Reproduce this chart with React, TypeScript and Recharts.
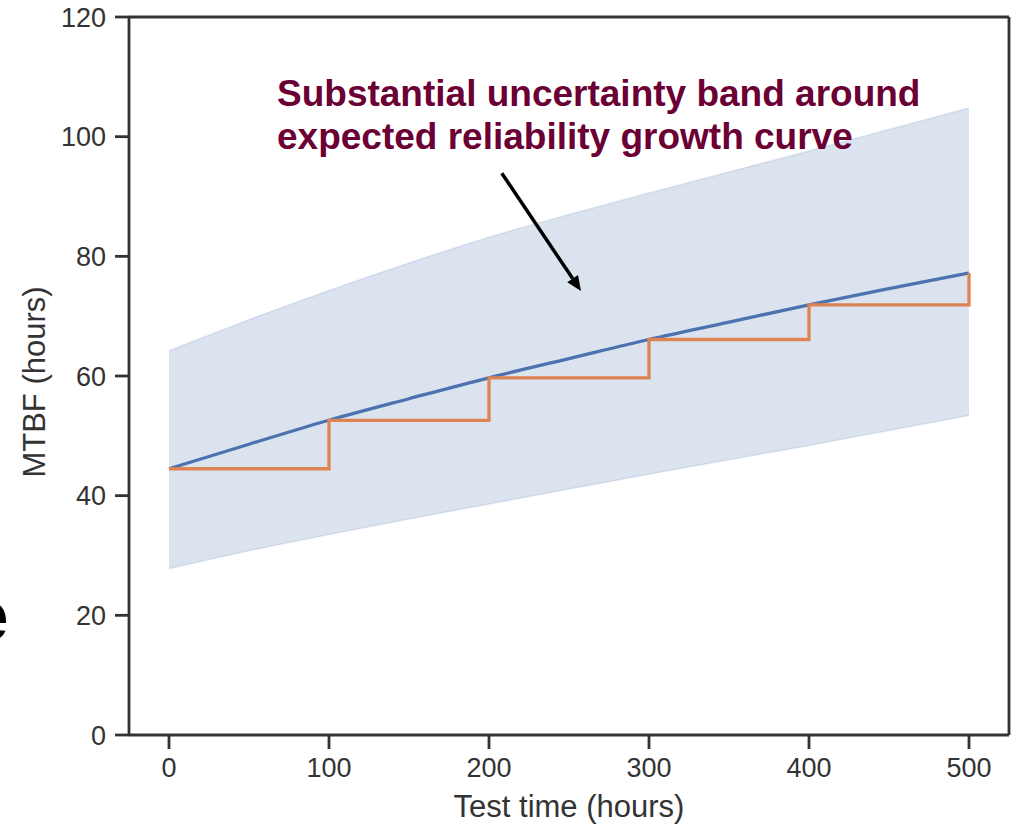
import { Area, ComposedChart, Line, ReferenceLine, XAxis, YAxis } from 'recharts'

// test hours sampled along the expected growth curve
const hours = [0, 50, 100, 150, 200, 250, 300, 350, 400, 450, 500]
const expected = [44.5, 48.6, 52.6, 56.2, 59.7, 62.9, 66.1, 69.0, 71.9, 74.6, 77.2]
const upper = [64.2, 69.4, 74.3, 78.9, 83.2, 87.0, 90.6, 94.1, 97.6, 101.2, 104.8]
const lower = [27.8, 30.8, 33.5, 36.1, 38.6, 41.1, 43.6, 46.0, 48.4, 50.9, 53.4]

// demonstrated MTBF after each test phase
const stepHours = [0, 100, 200, 300, 400, 500]
const demonstrated = [44.5, 52.6, 59.7, 66.1, 71.9, 77.2]

const xTicks = [0, 100, 200, 300, 400, 500]
const yTicks = [0, 20, 40, 60, 80, 100, 120]

// arrow from the note down into the band (data coords)
const arrow = [
  { x: 208, y: 93.9 },
  { x: 257.5, y: 74.2 },
]

const data = hours.map((h, i) => {
  const k = stepHours.indexOf(h)
  return {
    h,
    expected: expected[i],
    band: [lower[i], upper[i]],
    demonstrated: k >= 0 ? demonstrated[k] : null,
  }
})

const FONT = '"Liberation Sans", Arial, Helvetica, sans-serif'
const INK = '#333333'
const BLUE = '#4c72b0'
const ORANGE = '#dd8452'

function ArrowShape(p: any) {
  const { x1, y1, x2, y2 } = p
  const dx = x2 - x1
  const dy = y2 - y1
  const len = Math.sqrt(dx * dx + dy * dy) || 1
  const ux = dx / len
  const uy = dy / len
  const head = 15
  const half = 6.5
  const bx = x2 - ux * head
  const by = y2 - uy * head
  return (
    <g>
      <line x1={x1} y1={y1} x2={bx} y2={by} stroke="#000" strokeWidth={3.5} />
      <polygon
        points={`${x2},${y2} ${bx - uy * half},${by + ux * half} ${bx + uy * half},${by - ux * half}`}
        fill="#000"
      />
    </g>
  )
}

export default function App() {
  const tick = { fontSize: 27, fill: INK, fontFamily: FONT }
  const axisLine = { stroke: INK, strokeWidth: 2.8 }
  return (
    <div style={{ position: 'absolute', left: 0, top: 0, width: 1014, height: 826, overflow: 'hidden', background: '#fff' }}>
      <ComposedChart width={1014} height={826} data={data} margin={{ top: 17, right: 5, left: 0, bottom: 0 }}>
        <XAxis
          dataKey="h"
          type="number"
          domain={[-25, 525]}
          ticks={xTicks}
          allowDataOverflow
          height={91}
          tick={tick}
          tickSize={14}
          tickMargin={9}
          axisLine={axisLine}
          tickLine={axisLine}
          label={{
            value: 'Test time (hours)',
            position: 'insideBottom',
            offset: 9,
            style: { fontSize: 31, fill: INK, fontFamily: FONT },
          }}
        />
        <YAxis
          type="number"
          domain={[0, 120]}
          ticks={yTicks}
          width={129}
          tick={tick}
          tickSize={14}
          tickMargin={9}
          axisLine={axisLine}
          tickLine={axisLine}
          label={{
            value: 'MTBF (hours)',
            angle: -90,
            position: 'insideLeft',
            offset: 34,
            dy: 6,
            style: { fontSize: 31, fill: INK, fontFamily: FONT, textAnchor: 'middle' },
          }}
        />
        <Area
          dataKey="band"
          type="monotone"
          fill={BLUE}
          fillOpacity={0.2}
          stroke={BLUE}
          strokeOpacity={0.15}
          strokeWidth={1.5}
          isAnimationActive={false}
        />
        <Line dataKey="expected" type="monotone" stroke={BLUE} strokeWidth={3.3} dot={false} isAnimationActive={false} />
        <Line
          dataKey="demonstrated"
          type="stepAfter"
          connectNulls
          stroke={ORANGE}
          strokeWidth={3.3}
          dot={false}
          isAnimationActive={false}
        />
        <ReferenceLine y={120} stroke={INK} strokeWidth={2.8} ifOverflow="visible" />
        <ReferenceLine x={525} stroke={INK} strokeWidth={2.8} ifOverflow="visible" />
        <ReferenceLine segment={arrow} ifOverflow="visible" shape={ArrowShape} />
      </ComposedChart>
      <div
        style={{
          position: 'absolute',
          left: 277,
          top: 72,
          fontFamily: FONT,
          fontWeight: 700,
          fontSize: 37,
          lineHeight: '43px',
          color: '#6b0035',
          whiteSpace: 'nowrap',
        }}
      >
        Substantial uncertainty band around
        <br />
        expected reliability growth curve
      </div>
      <div
        style={{
          position: 'absolute',
          left: -33,
          top: 572,
          fontFamily: FONT,
          fontWeight: 700,
          fontSize: 75,
          lineHeight: 'normal',
          color: '#000',
        }}
      >
        e
      </div>
    </div>
  )
}
